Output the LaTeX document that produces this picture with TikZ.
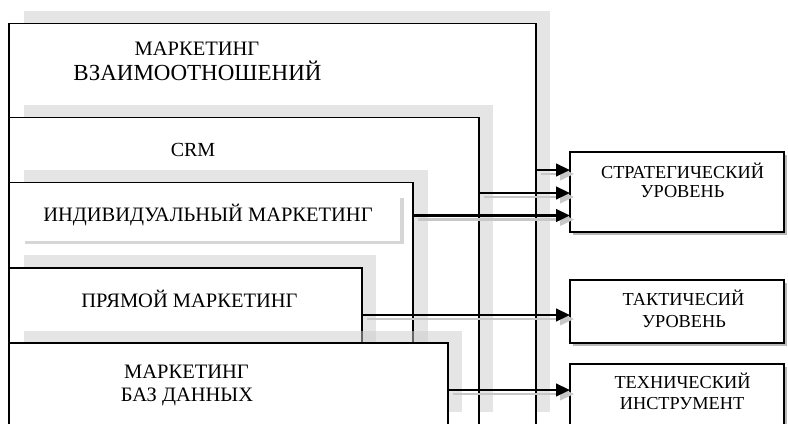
\documentclass[tikz,border=0pt]{standalone}
\usepackage{fontspec}
\setmainfont{Liberation Serif}
\usetikzlibrary{arrows.meta}
\begin{document}
\begin{tikzpicture}[x=1bp,y=-1bp,
  box/.style={draw=black,fill=white,line width=1.6bp,anchor=north west,inner sep=0pt,outer sep=0pt},
  shadowband/.style={fill=black!20,opacity=0.5},
  lvl/.style={draw=black,fill=white,line width=1.5bp,anchor=north west,inner sep=0pt,outer sep=0pt},
  lvlshadow/.style={fill=black!28},
  lbl/.style={anchor=base,inner sep=0pt,font=\fontsize{20.5bp}{24bp}\selectfont},
  lblbig/.style={anchor=base,inner sep=0pt,font=\fontsize{23bp}{26bp}\selectfont},
  lblsmall/.style={anchor=base,inner sep=0pt,font=\fontsize{20bp}{24bp}\selectfont},
  lvltxt/.style={anchor=base,inner sep=0pt,font=\fontsize{18.3bp}{20bp}\selectfont},
  arr/.style={draw=black,line width=2.6bp,-{Triangle[length=14bp,width=12.5bp]}},
  arrsh/.style={draw=black!22,line width=2.2bp,-{Triangle[length=14bp,width=12.5bp]}},
  innerline/.style={draw=black!16,line width=3.5bp},
]
\useasboundingbox (0,0) rectangle (788,423);
\clip (0,0) rectangle (788,423);

% arrow levels
\coordinate (y1) at (0,170);
\coordinate (y2) at (0,193);
\coordinate (y3) at (0,215.5);
\coordinate (y4) at (0,315);
\coordinate (y5) at (0,390);

% box 1: relationship marketing
\fill[shadowband] (24,10.5) rectangle (550,412);
\node[box,minimum width=527bp,minimum height=430bp] (b1) at (9,23.5) {};
% box 2: CRM
\fill[shadowband] (24,104.5) rectangle (493,412);
\node[box,minimum width=470bp,minimum height=330bp] (b2) at (9,117.5) {};
% box 3: individual marketing
\fill[shadowband] (24,169.5) rectangle (427.5,412);
\node[box,minimum width=404bp,minimum height=260bp] (b3) at (9,182.5) {};
\draw[innerline] (402,198) -- (402,242.5) -- (25,242.5);
% box 4: direct marketing
\fill[shadowband] (24,255) rectangle (376,412);
\node[box,minimum width=353bp,minimum height=180bp] (b4) at (9,268) {};
% box 5: database marketing
\fill[shadowband] (24,330.5) rectangle (462,412);
\node[box,minimum width=439bp,minimum height=100bp] (b5) at (9,343) {};

% labels of the nested boxes
\node[lbl] (t1a) at (197,55) {МАРКЕТИНГ};
\node[lblbig] (t1b) at (197.5,80) {ВЗАИМООТНОШЕНИЙ};
\node[lblsmall] (t2) at (193,156) {CRM};
\node[lbl] (t3) at (208,221) {ИНДИВИДУАЛЬНЫЙ МАРКЕТИНГ};
\node[lbl] (t4) at (189.5,307) {ПРЯМОЙ МАРКЕТИНГ};
\node[lbl] (t5a) at (186.5,378) {МАРКЕТИНГ};
\node[lbl] (t5b) at (187,401) {БАЗ ДАННЫХ};

% level boxes
\fill[lvlshadow] (573,155) rectangle (787,235);
\node[lvl,minimum width=214bp,minimum height=80bp] (s) at (570,152) {};
\fill[lvlshadow] (573,283) rectangle (787,346);
\node[lvl,minimum width=214bp,minimum height=63bp] (t) at (570,280) {};
\fill[lvlshadow] (573,367) rectangle (787,450);
\node[lvl,minimum width=214bp,minimum height=80bp] (r) at (570,364) {};

\node[lvltxt] (sa) at (682.5,178) {СТРАТЕГИЧЕСКИЙ};
\node[lvltxt] (sb) at (682.5,197.5) {УРОВЕНЬ};
\node[lvltxt] (ta) at (683.5,305) {ТАКТИЧЕСИЙ};
\node[lvltxt] (tb) at (684,327) {УРОВЕНЬ};
\node[lvltxt] (ra) at (682.5,388) {ТЕХНИЧЕСКИЙ};
\node[lvltxt] (rb) at (682,409) {ИНСТРУМЕНТ};

% arrow shadows
\begin{scope}[transform canvas={shift={(4bp,-4bp)}}]
\draw[arrsh] (b1.east |- y1) ++(1,0) -- (s.west |- y1);
\draw[arrsh] (b2.east |- y2) ++(1,0) -- (s.west |- y2);
\draw[arrsh] (b3.east |- y3) ++(1,0) -- (s.west |- y3);
\draw[arrsh] (b4.east |- y4) ++(1,0) -- (t.west |- y4);
\draw[arrsh] (b5.east |- y5) ++(1,0) -- (r.west |- y5);
\end{scope}

% arrows
\draw[arr] (b1.east |- y1) -- (s.west |- y1);
\draw[arr] (b2.east |- y2) -- (s.west |- y2);
\draw[arr] (b3.east |- y3) -- (s.west |- y3);
\draw[arr] (b4.east |- y4) -- (t.west |- y4);
\draw[arr] (b5.east |- y5) -- (r.west |- y5);
\end{tikzpicture}
\end{document}
